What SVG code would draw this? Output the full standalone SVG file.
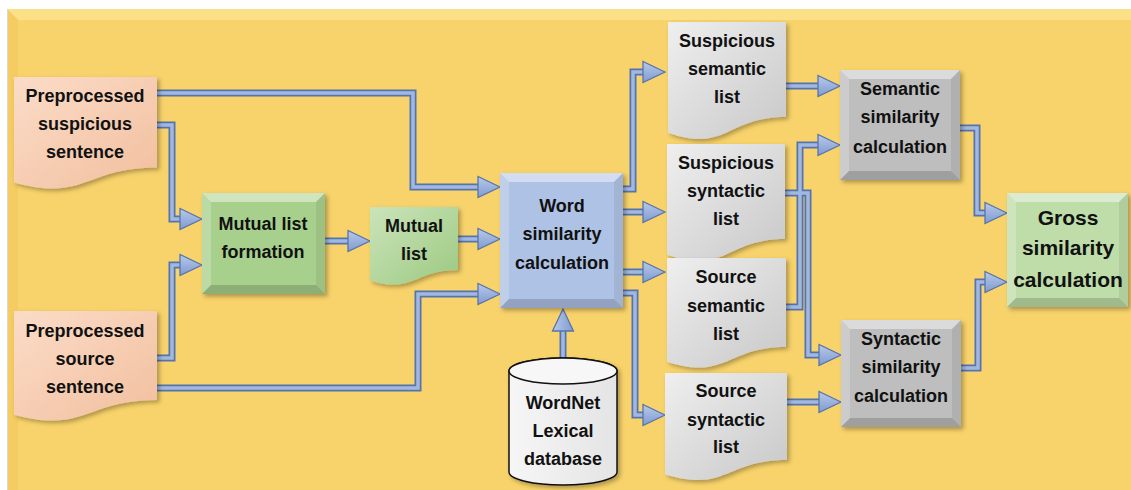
<svg xmlns="http://www.w3.org/2000/svg" xmlns:xlink="http://www.w3.org/1999/xlink" width="1131" height="490" viewBox="0 0 1131 490">
  <defs>
    <style>
      .t { font-family: "Liberation Sans", Arial, sans-serif; font-weight: bold; font-size: 18px; text-anchor: middle; fill: #111; }
      .big { font-size: 21px; }
      .co-o { fill: none; stroke: #5674AC; stroke-width: 7; stroke-linejoin: miter; }
      .co-i { fill: none; stroke: #A3B8E0; stroke-width: 3.5; stroke-linejoin: miter; }
      .ah { fill: url(#gArrow); stroke: #5674AC; stroke-width: 1.3; stroke-linejoin: miter; }
      .bt { fill: #fff; opacity: 0.45; }
      .bl { fill: #fff; opacity: 0.22; }
      .br { fill: #000; opacity: 0.07; }
      .bb { fill: #000; opacity: 0.16; }
      .sh { filter: url(#shadow); }
    </style>
    <filter id="shadow" x="-10%" y="-10%" width="130%" height="130%">
      <feDropShadow dx="2.5" dy="2.5" stdDeviation="2" flood-color="#000" flood-opacity="0.3"/>
    </filter>
    <linearGradient id="gArrow" x1="0" y1="0" x2="0" y2="1">
      <stop offset="0" stop-color="#B8C9EA"/>
      <stop offset="1" stop-color="#7F9BD0"/>
    </linearGradient>
    <linearGradient id="gPeach" x1="0" y1="0" x2="1" y2="1">
      <stop offset="0" stop-color="#FBDCC8"/>
      <stop offset="1" stop-color="#F2BF9E"/>
    </linearGradient>
    <linearGradient id="gGreenDoc" x1="0" y1="0" x2="1" y2="1">
      <stop offset="0" stop-color="#CBE4BA"/>
      <stop offset="1" stop-color="#9CC981"/>
    </linearGradient>
    <linearGradient id="gGray" x1="0" y1="0" x2="1" y2="1">
      <stop offset="0" stop-color="#EFEFEF"/>
      <stop offset="1" stop-color="#C8C8C8"/>
    </linearGradient>
    <linearGradient id="gCyl" x1="0" y1="0" x2="1" y2="0">
      <stop offset="0" stop-color="#F6F6F6"/>
      <stop offset="1" stop-color="#E4E4E4"/>
    </linearGradient>
    <path id="ahd" class="ah" d="M0,0 L-22,-10.5 L-22,10.5 Z"/>
  </defs>

  <!-- page and panel -->
  <rect x="0" y="0" width="1131" height="490" fill="#FFFFFF"/>
  <rect x="7" y="9" width="1130" height="490" fill="#F8D36B"/>
  <polygon points="7,9 1131,9 1131,20 18,20" fill="#FCE48E" opacity="0.8"/>
  <polygon points="7,9 18,20 18,490 7,490" fill="#F3CB60" opacity="0.8"/>
  <line x1="7.5" y1="9" x2="7.5" y2="490" stroke="#D8D8D8" stroke-width="1"/>

  <!-- connectors -->
  <g id="connectors">
    <g id="shafts">
      <path class="co-o" d="M157,93 H413 V187 H479"/>
      <path class="co-o" d="M157,125 H172 V219 H181"/>
      <path class="co-o" d="M157,358 H172 V265 H181"/>
      <path class="co-o" d="M157,388 H418 V294 H479"/>
      <path class="co-o" d="M325,241 H349"/>
      <path class="co-o" d="M458,239 H479"/>
      <path class="co-o" d="M623,189 H633 V72 H644"/>
      <path class="co-o" d="M623,212 H644"/>
      <path class="co-o" d="M623,272 H644"/>
      <path class="co-o" d="M623,293 H635 V415 H644"/>
      <path class="co-o" d="M786,86 H819"/>
      <path class="co-o" d="M786,307 H800 V145 H819"/>
      <path class="co-o" d="M785,193 H808 V355 H820"/>
      <path class="co-o" d="M787,402 H820"/>
      <path class="co-o" d="M960,128 H977 V213 H986"/>
      <path class="co-o" d="M961,368 H978 V282 H986"/>
      <path class="co-o" d="M563,358 V329"/>

      <path class="co-i" d="M157,93 H413 V187 H479"/>
      <path class="co-i" d="M157,125 H172 V219 H181"/>
      <path class="co-i" d="M157,358 H172 V265 H181"/>
      <path class="co-i" d="M157,388 H418 V294 H479"/>
      <path class="co-i" d="M325,241 H349"/>
      <path class="co-i" d="M458,239 H479"/>
      <path class="co-i" d="M623,189 H633 V72 H644"/>
      <path class="co-i" d="M623,212 H644"/>
      <path class="co-i" d="M623,272 H644"/>
      <path class="co-i" d="M623,293 H635 V415 H644"/>
      <path class="co-i" d="M786,86 H819"/>
      <path class="co-i" d="M786,307 H800 V145 H819"/>
      <path class="co-i" d="M785,193 H808 V355 H820"/>
      <path class="co-i" d="M787,402 H820"/>
      <path class="co-i" d="M960,128 H977 V213 H986"/>
      <path class="co-i" d="M961,368 H978 V282 H986"/>
      <path class="co-i" d="M563,358 V329"/>
    </g>
    <g id="heads">
      <use xlink:href="#ahd" transform="translate(500,187)"/>
      <use xlink:href="#ahd" transform="translate(202,219)"/>
      <use xlink:href="#ahd" transform="translate(202,265)"/>
      <use xlink:href="#ahd" transform="translate(500,294)"/>
      <use xlink:href="#ahd" transform="translate(370,241)"/>
      <use xlink:href="#ahd" transform="translate(500,239)"/>
      <use xlink:href="#ahd" transform="translate(665,72)"/>
      <use xlink:href="#ahd" transform="translate(665,212)"/>
      <use xlink:href="#ahd" transform="translate(665,272)"/>
      <use xlink:href="#ahd" transform="translate(665,415)"/>
      <use xlink:href="#ahd" transform="translate(840,86)"/>
      <use xlink:href="#ahd" transform="translate(840,145)"/>
      <use xlink:href="#ahd" transform="translate(841,355)"/>
      <use xlink:href="#ahd" transform="translate(841,402)"/>
      <use xlink:href="#ahd" transform="translate(1007,213)"/>
      <use xlink:href="#ahd" transform="translate(1007,282)"/>
      <use xlink:href="#ahd" transform="translate(563,309) rotate(-90)"/>
    </g>
  </g>

  <!-- input sentences -->
  <g id="suspicious-sentence">
    <path class="sh" d="M14,77 H157 V167.6 C85.5,167.6 85.5,202.1 14,182.5 Z" fill="url(#gPeach)"/>
    <text class="t" x="85" y="102">Preprocessed</text>
    <text class="t" x="85" y="130">suspicious</text>
    <text class="t" x="85" y="158">sentence</text>
  </g>
  <g id="source-sentence">
    <path class="sh" d="M14,311 H157 V400 C85.5,400 85.5,433.9 14,414.7 Z" fill="url(#gPeach)"/>
    <text class="t" x="85" y="337">Preprocessed</text>
    <text class="t" x="85" y="365">source</text>
    <text class="t" x="85" y="393">sentence</text>
  </g>

  <g id="mutual-list-formation">
    <rect class="sh" x="202" y="193" width="123" height="101" fill="#A8D08D"/>
    <polygon class="bt" points="202,193 325,193 316,202 211,202"/>
    <polygon class="bl" points="202,193 211,202 211,285 202,294"/>
    <polygon class="br" points="325,193 325,294 316,285 316,202"/>
    <polygon class="bb" points="202,294 325,294 316,285 211,285"/>
    <text class="t" x="263" y="230">Mutual list</text>
    <text class="t" x="263" y="258">formation</text>
  </g>

  <g id="mutual-list">
    <path class="sh" d="M370,207 H458 V270 C414,270 414,294 370,280.4 Z" fill="url(#gGreenDoc)"/>
    <text class="t" x="414" y="232">Mutual</text>
    <text class="t" x="414" y="260">list</text>
  </g>

  <g id="word-similarity">
    <rect class="sh" x="500" y="173" width="123" height="135" fill="#AEC2E5"/>
    <polygon class="bt" points="500,173 623,173 614,182 509,182"/>
    <polygon class="bl" points="500,173 509,182 509,299 500,308"/>
    <polygon class="br" points="623,173 623,308 614,299 614,182"/>
    <polygon class="bb" points="500,308 623,308 614,299 509,299"/>
    <text class="t" x="562" y="212">Word</text>
    <text class="t" x="562" y="240">similarity</text>
    <text class="t" x="562" y="269">calculation</text>
  </g>

  <g id="wordnet">
    <path class="sh" d="M509,371 A54,13 0 0 1 617,371 V472 A54,13 0 0 1 509,472 Z" fill="url(#gCyl)" stroke="#111" stroke-width="1.5"/>
    <ellipse cx="563" cy="371" rx="54" ry="13" fill="#F7F7F7" stroke="#111" stroke-width="1.5"/>
    <text class="t" x="563" y="409">WordNet</text>
    <text class="t" x="563" y="437">Lexical</text>
    <text class="t" x="563" y="465">database</text>
  </g>

  <!-- intermediate lists -->
  <g id="suspicious-semantic-list">
    <path class="sh" d="M668,22 H786 V117 C727,117 727,153.2 668,132.7 Z" fill="url(#gGray)"/>
    <text class="t" x="727" y="47">Suspicious</text>
    <text class="t" x="727" y="75">semantic</text>
    <text class="t" x="727" y="103">list</text>
  </g>
  <g id="suspicious-syntactic-list">
    <path class="sh" d="M667,144 H785 V239 C726,239 726,275.2 667,254.7 Z" fill="url(#gGray)"/>
    <text class="t" x="726" y="169">Suspicious</text>
    <text class="t" x="726" y="197">syntactic</text>
    <text class="t" x="726" y="225">list</text>
  </g>
  <g id="source-semantic-list">
    <path class="sh" d="M667,258 H786 V347 C726.5,347 726.5,380.9 667,361.7 Z" fill="url(#gGray)"/>
    <text class="t" x="726" y="283">Source</text>
    <text class="t" x="726" y="312">semantic</text>
    <text class="t" x="726" y="340">list</text>
  </g>
  <g id="source-syntactic-list">
    <path class="sh" d="M665,373 H787 V460 C726,460 726,493.2 665,474.3 Z" fill="url(#gGray)"/>
    <text class="t" x="726" y="397">Source</text>
    <text class="t" x="726" y="426">syntactic</text>
    <text class="t" x="726" y="453">list</text>
  </g>

  <!-- similarity calculators -->
  <g id="semantic-similarity">
    <rect class="sh" x="840" y="70" width="120" height="110" fill="#BEBEBE"/>
    <polygon class="bt" points="840,70 960,70 951,79 849,79"/>
    <polygon class="bl" points="840,70 849,79 849,171 840,180"/>
    <polygon class="br" points="960,70 960,180 951,171 951,79"/>
    <polygon class="bb" points="840,180 960,180 951,171 849,171"/>
    <text class="t" x="900" y="95">Semantic</text>
    <text class="t" x="900" y="123">similarity</text>
    <text class="t" x="900" y="153">calculation</text>
  </g>
  <g id="syntactic-similarity">
    <rect class="sh" x="841" y="320" width="120" height="107" fill="#BEBEBE"/>
    <polygon class="bt" points="841,320 961,320 952,329 850,329"/>
    <polygon class="bl" points="841,320 850,329 850,418 841,427"/>
    <polygon class="br" points="961,320 961,427 952,418 952,329"/>
    <polygon class="bb" points="841,427 961,427 952,418 850,418"/>
    <text class="t" x="901" y="345">Syntactic</text>
    <text class="t" x="901" y="373">similarity</text>
    <text class="t" x="901" y="402">calculation</text>
  </g>

  <g id="gross-similarity">
    <rect class="sh" x="1007" y="193" width="121" height="114" fill="#BFDDA9"/>
    <polygon class="bt" points="1007,193 1128,193 1119,202 1016,202"/>
    <polygon class="bl" points="1007,193 1016,202 1016,298 1007,307"/>
    <polygon class="br" points="1128,193 1128,307 1119,298 1119,202"/>
    <polygon class="bb" points="1007,307 1128,307 1119,298 1016,298"/>
    <text class="t big" x="1068" y="225">Gross</text>
    <text class="t big" x="1068" y="255">similarity</text>
    <text class="t big" x="1068" y="287">calculation</text>
  </g>
</svg>
